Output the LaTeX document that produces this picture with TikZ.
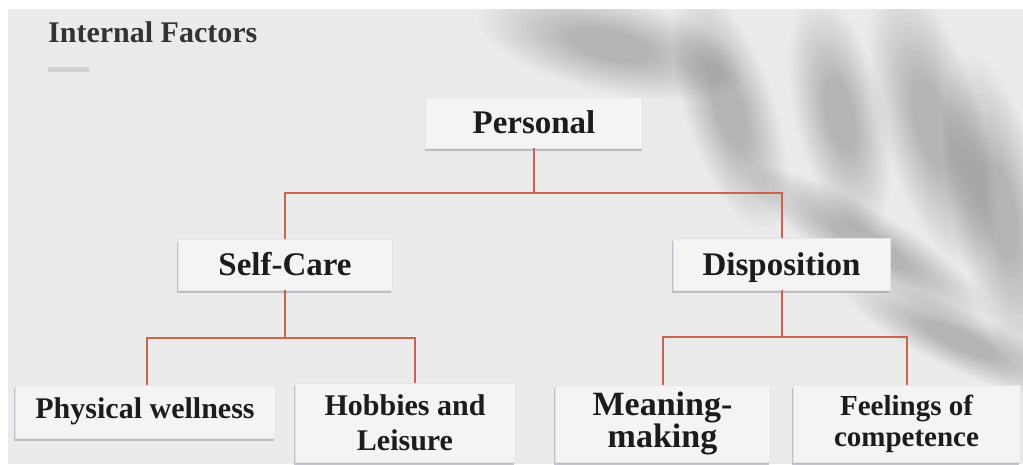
\documentclass[tikz,border=0pt]{standalone}
\usepackage{fontspec}
\setmainfont{Liberation Serif}
\usepackage{xcolor}
\usepackage{tikz}
\usetikzlibrary{shadows}
\definecolor{bgcol}{HTML}{EBEBEB}
\definecolor{boxcol}{HTML}{F4F4F4}
\definecolor{linkcol}{HTML}{C8654C}
\definecolor{txtcol}{HTML}{1C1C1C}
\definecolor{shadecol}{HTML}{8E8EA0}
\newcommand{\leafshade}[5]{%
  \foreach \n in {0,...,17}{%
    \fill[black, opacity=0.013, rotate around={#5:(#1,#2)}]
      (#1,#2) ellipse [x radius={#3*(1.5-0.06*\n)}, y radius={(#4+12)*(1.5-0.06*\n)}];
  }}

\begin{document}
\begin{tikzpicture}[
    x=1pt, y=-1pt,
    box/.style={fill=boxcol, draw=black!10, text=txtcol, align=center, inner sep=0pt,
        font=\bfseries\fontsize{33}{35}\selectfont,
        drop shadow={shadow xshift=-1pt, shadow yshift=-2.5pt, fill=shadecol, opacity=0.5}},
    link/.style={draw=linkcol, line width=2pt}
]
\useasboundingbox[fill=white] (0,0) rectangle (1023,464);
\fill[bgcol] (8,9) rectangle (1023,464);
\begin{scope}
\clip (8,9) rectangle (1023,464);
\leafshade{610}{45}{90}{20}{-13}
\leafshade{730}{110}{85}{18}{-72}
\leafshade{840}{115}{80}{18}{-77}
\leafshade{932}{125}{100}{22}{-74}
\leafshade{1000}{210}{105}{20}{-78}
\leafshade{870}{245}{95}{10}{-31}
\leafshade{960}{340}{85}{8}{-25}
\end{scope}

\node[anchor=base west, inner sep=0pt, text=black!80, font=\bfseries\fontsize{30}{32}\selectfont] (title) at (48,42) {Internal Factors};
\fill[black!18] (48,67) rectangle (89,72);

\node[box, minimum width=217pt, minimum height=51pt] (personal) at (534,122.5) {Personal};
\node[box, minimum width=214pt, minimum height=51pt] (selfcare) at (285,264.5) {Self-Care};
\node[box, minimum width=217pt, minimum height=52pt, text depth=0pt] (disposition) at (781.5,264) {Disposition};
\node[box, minimum width=260pt, minimum height=53pt, font=\bfseries\fontsize{30}{32}\selectfont] (physical) at (145,411.5) {Physical wellness};
\node[box, minimum width=220pt, minimum height=79pt, font=\bfseries\fontsize{30}{35}\selectfont] (hobbies) at (405,422.5) {Hobbies and\\Leisure};
\node[box, minimum width=215pt, minimum height=77pt, font=\bfseries\fontsize{34}{32}\selectfont] (meaning) at (662.5,423.5) {Meaning-\\making};
\node[box, minimum width=227pt, minimum height=77pt, font=\bfseries\fontsize{29}{31}\selectfont] (feelings) at (906.5,423.5) {Feelings of\\competence};

\draw[link] (personal.south) -- ++(0,45) -| (selfcare.north);
\draw[link] (personal.south) -- ++(0,45) -| (disposition.north);
\draw[link] (selfcare.south) -- ++(0,48) -| ([xshift=2pt]physical.north);
\draw[link] (selfcare.south) -- ++(0,48) -| ([xshift=10pt]hobbies.north);
\draw[link] (disposition.south) -- ++(0,47) -| (meaning.north);
\draw[link] (disposition.south) -- ++(0,47) -| (feelings.north);
\end{tikzpicture}
\end{document}
